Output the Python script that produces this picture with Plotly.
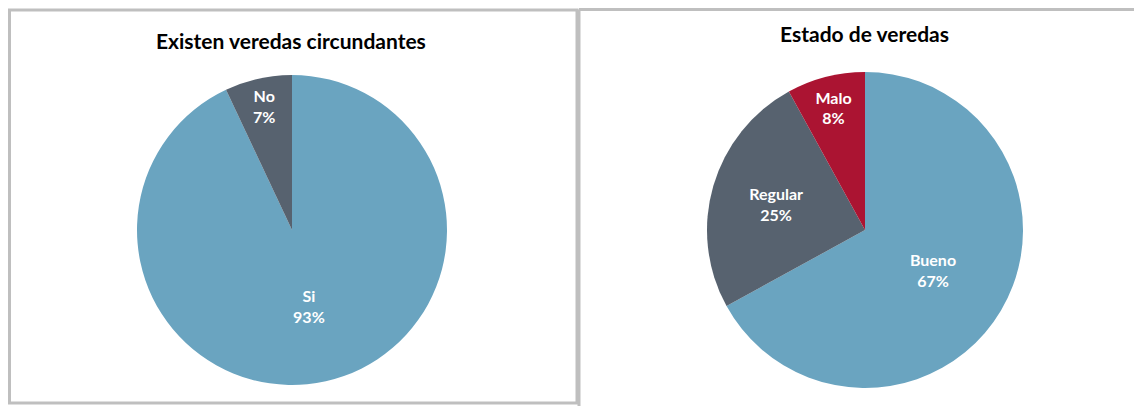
import plotly.graph_objects as go

# datos
existen_labels = ["Si", "No"]
existen_values = [93, 7]
estado_labels = ["Bueno", "Regular", "Malo"]
estado_values = [67, 25, 8]

azul = "#6AA4C0"
gris = "#57626F"
rojo = "#AB1432"

# the page body adds an 8px margin, so work in page pixels and shift
OFF = 8
W, H = 1134, 398


def px(x):
    return (x - OFF) / W


def py(y):
    return 1 - (y - OFF) / H


fig = go.Figure()

fig.add_trace(go.Pie(
    labels=existen_labels, values=existen_values,
    sort=False, direction="clockwise", rotation=0,
    marker=dict(colors=[azul, gris]),
    texttemplate="<b>%{label}<br>%{percent:.0%}</b>",
    textposition="inside", insidetextorientation="horizontal",
    textfont=dict(family="Lato", size=16, color="white"),
    domain=dict(x=[px(292 - 155), px(292 + 155)], y=[py(230 + 155), py(230 - 155)]),
    showlegend=False, hoverinfo="label+percent",
))

fig.add_trace(go.Pie(
    labels=estado_labels, values=estado_values,
    sort=False, direction="clockwise", rotation=0,
    marker=dict(colors=[azul, gris, rojo]),
    texttemplate="<b>%{label}<br>%{percent:.0%}</b>",
    textposition="inside", insidetextorientation="horizontal",
    textfont=dict(family="Lato", size=16, color="white"),
    domain=dict(x=[px(865 - 158), px(865 + 158)], y=[py(230 + 158), py(230 - 158)]),
    showlegend=False, hoverinfo="label+percent",
))

borde = dict(color="#BFBFBF", width=3)
fig.update_layout(
    width=W, height=H,
    margin=dict(l=0, r=0, t=0, b=0),
    paper_bgcolor="white", plot_bgcolor="white",
    shapes=[
        dict(type="rect", xref="paper", yref="paper",
             x0=px(9.5), x1=px(577), y0=py(403), y1=py(10), line=borde),
        dict(type="line", xref="paper", yref="paper",
             x0=px(579), x1=px(579), y0=py(410), y1=py(9.5), line=borde),
        dict(type="line", xref="paper", yref="paper",
             x0=px(579), x1=1, y0=py(9.5), y1=py(9.5), line=borde),
    ],
    annotations=[
        dict(text="<b>Existen veredas circundantes</b>", x=px(291), y=py(40),
             xref="paper", yref="paper", showarrow=False, xanchor="center", yanchor="middle",
             font=dict(family="Lato", size=21, color="black")),
        dict(text="<b>Estado de veredas</b>", x=px(864), y=py(34),
             xref="paper", yref="paper", showarrow=False, xanchor="center", yanchor="middle",
             font=dict(family="Lato", size=21, color="black")),
    ],
)

fig.write_html("out.html")
